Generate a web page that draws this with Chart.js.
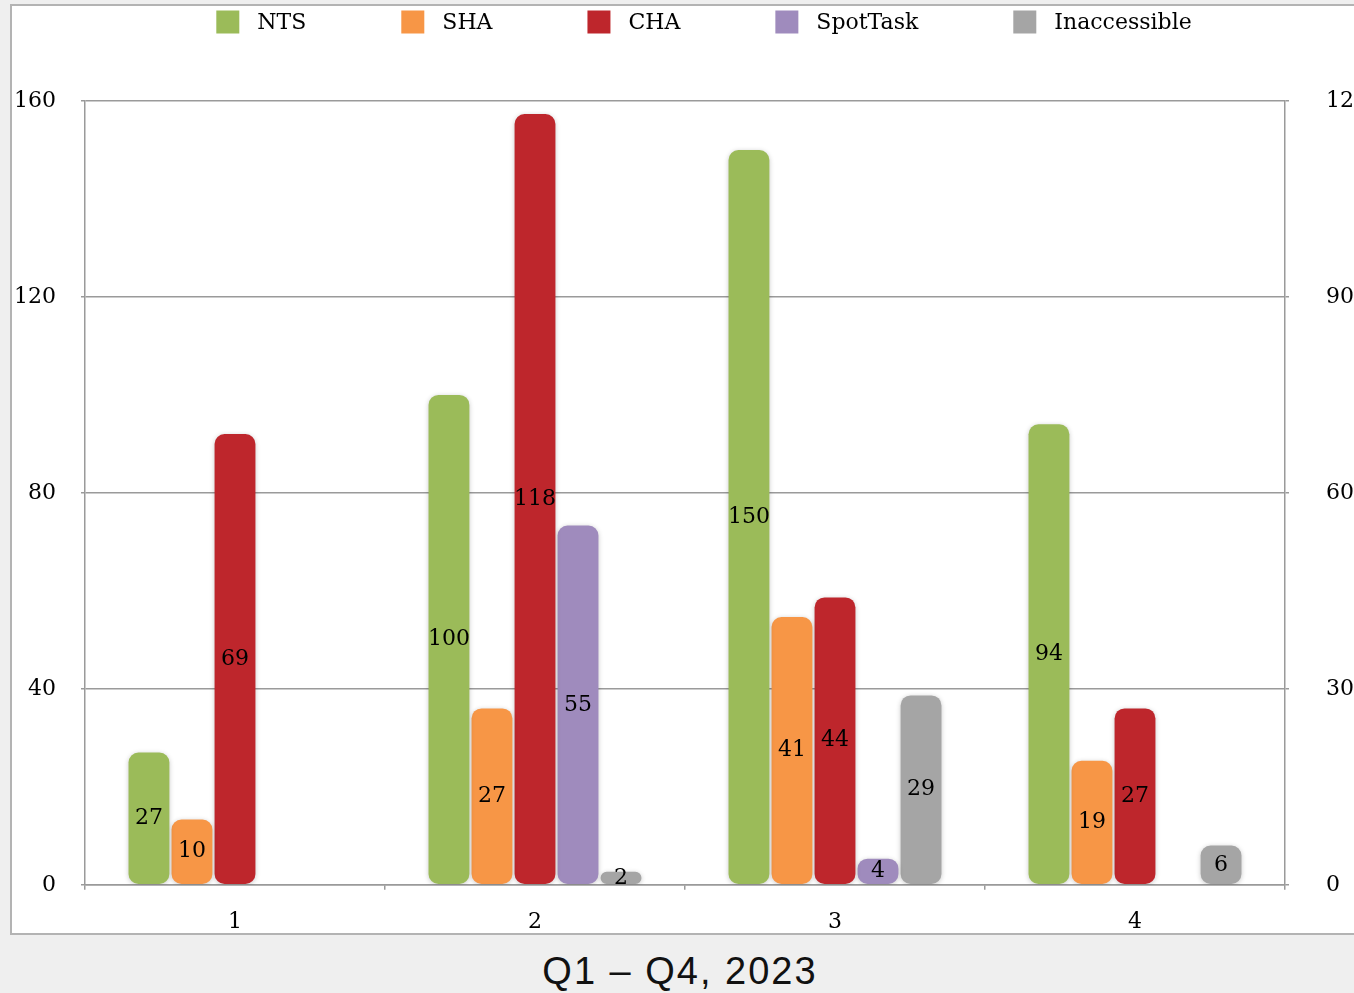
<!DOCTYPE html>
<html>
<head>
<meta charset="utf-8">
<script src="https://cdn.jsdelivr.net/npm/chart.js@4.4.1/dist/chart.umd.min.js"></script>
<style>
  html, body { margin: 0; padding: 0; width: 1354px; height: 993px; overflow: hidden; background: #efefef; }
  #frame { position: absolute; left: 10px; top: 4px; width: 1400px; height: 927px; background: #ffffff; border: 2px solid #b3b3b3; }
  #wrap { position: absolute; left: 0; top: 0; width: 1400px; height: 935px; }
  #caption { position: absolute; left: 0; width: 1360px; top: 950px; text-align: center; font-family: "Liberation Sans", Arial, sans-serif; font-size: 38px; letter-spacing: 2px; color: #111; }
</style>
</head>
<body>
<div id="frame"></div>
<div id="wrap"><canvas id="c"></canvas></div>
<div id="caption">Q1 – Q4, 2023</div>
<script>
const categories = ['1', '2', '3', '4'];
const seriesNames = ['NTS', 'SHA', 'CHA', 'SpotTask', 'Inaccessible'];
const ntsValues = [27, 100, 150, 94];
const shaValues = [10, 27, 41, 19];
const chaValues = [69, 118, 44, 27];
const spotTaskValues = [null, 55, 4, null];
const inaccessibleValues = [null, 2, 29, 6];
const leftTicks = [0, 40, 80, 120, 160];
const rightTicks = [0, 30, 60, 90, 120];
const seriesColors = ['#9bbb59', '#f79646', '#be262c', '#9f8bbd', '#a5a5a5'];

const SERIF = '"DejaVu Serif", "Liberation Serif", serif';

const barShadow = {
  id: 'barShadow',
  beforeDatasetsDraw(chart) {
    const ctx = chart.ctx;
    ctx.save();
    ctx.shadowColor = 'rgba(0,0,0,0.22)';
    ctx.shadowBlur = 5;
    ctx.shadowOffsetX = 0;
    ctx.shadowOffsetY = 1;
  },
  afterDatasetsDraw(chart) {
    chart.ctx.restore();
  }
};

const barLabels = {
  id: 'barLabels',
  afterDatasetsDraw(chart) {
    const ctx = chart.ctx;
    ctx.save();
    ctx.font = '22px ' + SERIF;
    ctx.fillStyle = '#000';
    ctx.textAlign = 'center';
    ctx.textBaseline = 'middle';
    chart.data.datasets.forEach((ds, di) => {
      const meta = chart.getDatasetMeta(di);
      meta.data.forEach((bar, i) => {
        const v = ds.data[i];
        if (v === null || v === undefined) return;
        const p = bar.getProps(['x', 'y', 'base'], true);
        ctx.fillText(String(v), p.x, (p.y + p.base) / 2);
      });
    });
    ctx.restore();
  }
};

const topLegend = {
  id: 'topLegend',
  afterDraw(chart) {
    const ctx = chart.ctx;
    const box = 23, gap = 18, spacing = 95, cy = 22, centerX = 704;
    ctx.save();
    ctx.font = '22px ' + SERIF;
    ctx.textBaseline = 'middle';
    ctx.textAlign = 'left';
    const items = chart.data.datasets.map(ds => ({ text: ds.label, color: ds.backgroundColor, w: ctx.measureText(ds.label).width }));
    const total = items.reduce((s, it) => s + box + gap + it.w, 0) + spacing * (items.length - 1);
    let x = centerX - total / 2;
    items.forEach(it => {
      ctx.fillStyle = it.color;
      ctx.fillRect(x, cy - box / 2, box, box);
      ctx.fillStyle = '#000';
      ctx.fillText(it.text, x + box + gap, cy + 1);
      x += box + gap + it.w + spacing;
    });
    ctx.restore();
  }
};

const valueLists = [ntsValues, shaValues, chaValues, spotTaskValues, inaccessibleValues];
const datasets = seriesNames.map((name, i) => ({
  label: name,
  data: valueLists[i],
  backgroundColor: seriesColors[i],
  yAxisID: i === 0 ? 'y' : 'y1',
  borderRadius: 10,
  borderSkipped: false,
  categoryPercentage: 0.717,
  barPercentage: 0.95
}));

new Chart(document.getElementById('c'), {
  type: 'bar',
  data: { labels: categories, datasets },
  plugins: [barShadow, barLabels, topLegend],
  options: {
    responsive: true,
    maintainAspectRatio: false,
    animation: false,
    layout: { padding: { top: 101, left: 0, right: 0, bottom: 0 } },
    plugins: {
      legend: { display: false },
      tooltip: { enabled: false }
    },
    scales: {
      x: {
        afterFit: s => { s.height = 50; },
        grid: { display: true, drawOnChartArea: false, drawTicks: true, tickLength: 5, color: '#9a9a9a', lineWidth: 1.5 },
        border: { display: true, color: '#9a9a9a', width: 1.5 },
        ticks: { font: { family: SERIF, size: 22 }, color: '#000', padding: 19 }
      },
      y: {
        position: 'left',
        min: 0, max: 160,
        afterFit: s => { s.width = 85; },
        afterBuildTicks: s => { s.ticks = leftTicks.map(v => ({ value: v })); },
        grid: { color: '#9a9a9a', lineWidth: 1.5, drawTicks: true, tickLength: 4 },
        border: { display: true, color: '#9a9a9a', width: 1.5 },
        ticks: { font: { family: SERIF, size: 22 }, color: '#000', padding: 25 }
      },
      y1: {
        position: 'right',
        min: 0, max: 120,
        afterFit: s => { s.width = 115; },
        afterBuildTicks: s => { s.ticks = rightTicks.map(v => ({ value: v })); },
        grid: { drawOnChartArea: false, color: '#9a9a9a', lineWidth: 1.5, drawTicks: true, tickLength: 4 },
        border: { display: true, color: '#9a9a9a', width: 1.5 },
        ticks: { font: { family: SERIF, size: 22 }, color: '#000', padding: 37 }
      }
    }
  }
});
</script>
</body>
</html>
